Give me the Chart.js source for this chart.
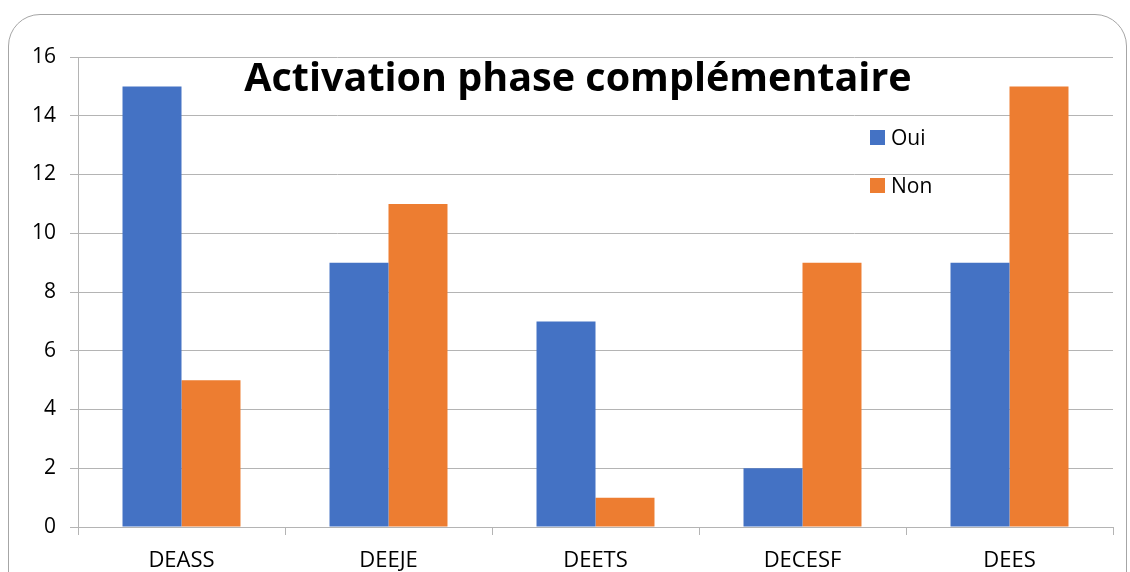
<!DOCTYPE html>
<html>
<head>
<meta charset="utf-8">
<script src="https://cdn.jsdelivr.net/npm/chart.js@4/dist/chart.umd.min.js"></script>
<style>
  html, body { margin: 0; padding: 0; background: #fff; overflow: hidden; }
  #wrap { position: relative; width: 1130px; height: 572px; }
  #frame {
    position: absolute; left: 8px; top: 14px; width: 1119px; height: 620px;
    border: 1.5px solid #a6a6a6; border-radius: 32px; box-sizing: border-box;
  }
  #title {
    position: absolute; left: 0; width: 1156px; top: 57px; text-align: center; line-height: 1;
    font-family: "Open Sans", sans-serif; font-weight: bold; font-size: 39.5px; color: #000;
  }
  #legend { position: absolute; left: 870px; top: 124px; font-family: "Open Sans", sans-serif; font-size: 21px; color: #000; }
  #legend .item { display: flex; align-items: center; height: 26px; margin-bottom: 22px; }
  #legend .box { width: 15px; height: 15px; margin-right: 6px; }
  canvas { position: absolute; left: 0; top: 0; }
</style>
</head>
<body>
<div id="wrap">
  <div id="frame"></div>
  <canvas id="chart" width="1130" height="572"></canvas>
  <div id="title">Activation phase complémentaire</div>
  <div id="legend"></div>
</div>
<script>
const categories = ['DEASS', 'DEEJE', 'DEETS', 'DECESF', 'DEES'];
const ouiValues = [15, 9, 7, 2, 9];
const nonValues = [5, 11, 1, 9, 15];
const seriesNames = ['Oui', 'Non'];
const seriesColors = ['#4472C4', '#ED7D31'];

const gridColor = '#b4b4b4';
const labelColor = '#000';
const fontFamily = '"Open Sans", sans-serif';

// legend as html
const legendEl = document.getElementById('legend');
seriesNames.forEach(function (name, i) {
    const item = document.createElement('div');
    item.className = 'item';
    item.innerHTML = '<span class="box" style="background:' + seriesColors[i] + '"></span><span>' + name + '</span>';
    legendEl.appendChild(item);
});

new Chart(document.getElementById('chart'), {
    type: 'bar',
    data: {
        labels: categories,
        datasets: [
            { label: seriesNames[0], data: ouiValues, backgroundColor: seriesColors[0] },
            { label: seriesNames[1], data: nonValues, backgroundColor: seriesColors[1] }
        ]
    },
    options: {
        responsive: false,
        animation: false,
        devicePixelRatio: 1,
        layout: { padding: { top: 57, right: 17, left: 0, bottom: 0 } },
        datasets: { bar: { barPercentage: 1, categoryPercentage: 0.57 } },
        plugins: { legend: { display: false }, title: { display: false }, tooltip: { enabled: false } },
        scales: {
            x: {
                afterFit: function (s) { s.height = 45; },
                ticks: { color: labelColor, font: { family: fontFamily, size: 22 }, padding: 13 },
                grid: { offset: true, drawOnChartArea: false, drawTicks: true, tickLength: 8, color: gridColor },
                border: { display: true, color: gridColor, width: 1 }
            },
            y: {
                min: 0, max: 16,
                afterFit: function (s) { s.width = 78; },
                ticks: { stepSize: 2, color: labelColor, font: { family: fontFamily, size: 21 }, padding: 14 },
                grid: { color: gridColor, lineWidth: 1, tickLength: 8 },
                border: { display: true, color: gridColor, width: 1 }
            }
        }
    }
});
</script>
</body>
</html>
